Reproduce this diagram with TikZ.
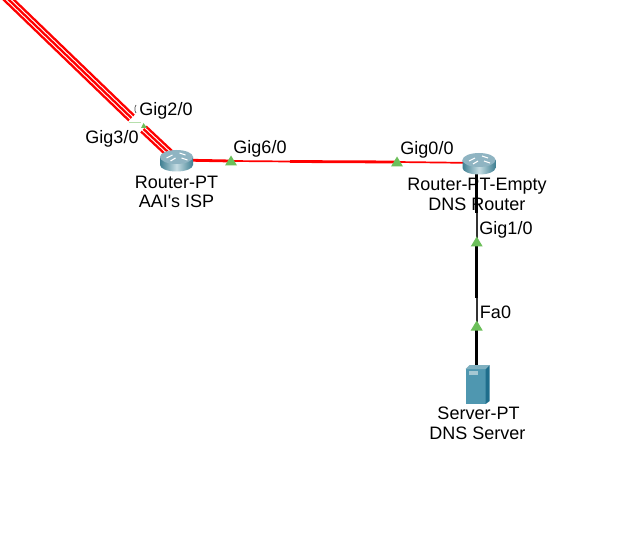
\documentclass[tikz,border=0pt]{standalone}
\usepackage{fontspec}
\newfontfamily\plainsans{Liberation Sans}
\usetikzlibrary{calc}
\definecolor{rtop}{HTML}{8FB4C2}
\definecolor{rdark}{HTML}{3F7F92}
\definecolor{rlight}{HTML}{C6DDE3}
\definecolor{srvf}{HTML}{4F97B0}
\definecolor{srvs}{HTML}{1F6E8C}
\definecolor{srvt}{HTML}{7FB0C0}
\definecolor{tri}{HTML}{6CBF5A}
\tikzset{
  x=1pt,y=-1pt,
  lbl/.style={font=\plainsans\fontsize{18}{20}\selectfont,inner sep=0pt,text=black,align=center},
  redw/.style={draw=red,line width=2.3pt},
  blk/.style={draw=black,line width=2.6pt},
  thinblk/.style={draw=black!80,line width=2pt},
  redl/.style={draw=red,line width=2.8pt},
  thinred/.style={draw=red,line width=1.7pt},
  tript/.style={fill=tri,draw=none},
}
\newcommand{\mytri}[1]{\path[tript] ($(#1)+(-6,4.5)$) -- ($(#1)+(6,4.5)$) -- ($(#1)+(0,-5.5)$) -- cycle;}
\newcommand{\myrouter}[1]{%
  \begin{scope}[shift={(#1)}]
    \shade[left color=rdark,right color=rdark,middle color=rlight] (-16.5,-3) -- (-16.5,5) arc[start angle=180,end angle=0,x radius=16.5,y radius=6.5] -- (16.5,-3) -- cycle;
    \fill[rtop] (0,-3) ellipse[x radius=16.5,y radius=7];
    \foreach \a/\b/\c/\d in {-10/-2/-4/-5, 3/-7/9/-5, -6/1/-1/-2, 5/-2/11/0}{\draw[white,line width=1.1pt] (\a,\b) -- (\c,\d);}
  \end{scope}}
\begin{document}
\begin{tikzpicture}
\useasboundingbox (0,0) rectangle (640,540);
\fill[white] (0,0) rectangle (640,540);
\coordinate (isp) at (176.5,160);
\coordinate (dns) at (479,163);
\coordinate (srv) at (476.7,384);
\coordinate (far) at (-20,-28);
\coordinate (t1) at (231,161);
\coordinate (t2) at (397,162);
\coordinate (t3) at (476.7,242);
\coordinate (t4) at (476.7,326);
\coordinate (mid) at (290,161.5);
\coordinate (b1) at (476.7,213);
\coordinate (b2) at (476.7,298);
% triple cable
\foreach \o in {-2.5,0,2.5}{
  \draw[redw] ($(far)+(\o,-\o)$) -- ($(131.5,118)+(\o,-\o)$);
  \draw[redw] ($(143.5,129)+(\o,-\o)$) -- ($(isp)+(\o,-\o)$);
}
% link isp to dns
\draw[redl] (isp) -- (t1);
\draw[thinred] (t1) -- (mid);
\draw[redl] (mid) -- (t2);
\draw[thinred] (t2) -- (dns);
% link dns to srv
\draw[blk] (476.7,163) -- (b1);
\draw[thinblk] (b1) -- (t3);
\draw[blk] (t3) -- (b2);
\draw[thinblk] (b2) -- (t4);
\draw[blk] (t4) -- (srv);
% triangles
\mytri{t1}\mytri{t2}\mytri{t3}\mytri{t4}
\path[tript] (141,128) -- (147,128) -- (143.5,123) -- cycle;
\fill[tri!50] (129,121.6) rectangle (141,122.6);
% devices
\myrouter{isp}
\myrouter{dns}
\begin{scope}[shift={(srv)}]
  \fill[srvf] (-11,-15) rectangle (9,20);
  \fill[srvs] (9,-15) -- (13,-19) -- (13,17) -- (9,20) -- cycle;
  \fill[srvt] (-11,-15) -- (-7,-19) -- (13,-19) -- (9,-15) -- cycle;
  \fill[srvt!70!white] (-8,-13) rectangle (1,-9);
\end{scope}
% labels
\node[lbl] (l1) at (176.5,182) {Router-PT};
\node[lbl] (l2) at (176.5,201.5) {AAI's ISP};
\node[lbl] (l3) at (477,186) {Router-PT-Empty};
\node[lbl] (l4) at (477,204) {DNS Router};
\node[lbl] (l5) at (478.5,413.5) {Server-PT};
\node[lbl] (l6) at (477.5,433.5) {DNS Server};
\node[lbl] (p1) at (166,110.5) {Gig2/0};
\node[lbl] (p2) at (112,138.5) {Gig3/0};
\node[lbl] (p3) at (260,148.5) {Gig6/0};
\node[lbl] (p4) at (427,149.5) {Gig0/0};
\node[lbl] (p5) at (506,229.5) {Gig1/0};
\node[lbl] (p6) at (495.5,312) {Fa0};
\draw[black!70,line width=0.7pt] (136,105) .. controls (134.5,107) and (134.5,111) .. (136,113);
\end{tikzpicture}
\end{document}
